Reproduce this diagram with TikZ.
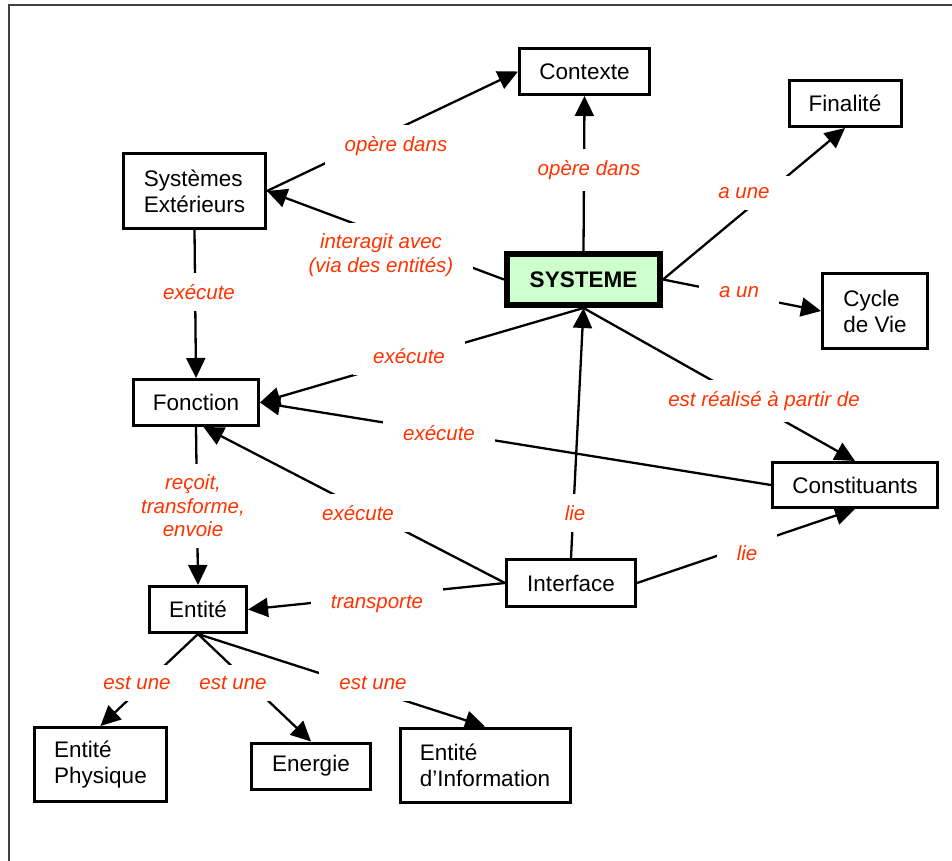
\documentclass[tikz,border=0pt]{standalone}
\usepackage{fontspec}
\setmainfont{Liberation Sans}
\usetikzlibrary{arrows.meta}
\definecolor{linkred}{RGB}{255,51,0}
\definecolor{sysgreen}{RGB}{204,255,204}

\begin{document}
\begin{tikzpicture}[x=1pt,y=-1pt,
  concept/.style={draw, line width=3pt, inner sep=0pt, align=left,
    font=\fontsize{22.5}{26}\selectfont},
  link/.style={line width=2.3pt, -{Triangle[length=20pt,width=19pt]}},
  linklabel/.style={fill=white, text=linkred, inner xsep=20pt, inner ysep=11pt,
    align=center, font=\fontsize{20.5}{23.5}\selectfont\itshape},
]
\useasboundingbox (0,0) rectangle (952,861);

% frame
\draw[line width=1.5pt, black!75] (9,861) -- (9,5) -- (952,5);

% concepts
\node[concept, minimum width=130, minimum height=46] (contexte) at (584.5,71.5) {Contexte};
\node[concept, minimum width=142, minimum height=74] (sysext) at (194.5,191) {Systèmes\\Extérieurs};
\node[concept, minimum width=112, minimum height=46] (finalite) at (845,103.5) {Finalité};
\node[concept, line width=6pt, fill=sysgreen, minimum width=153, minimum height=51,
  font=\fontsize{22.5}{26}\selectfont\bfseries] (systeme) at (583.5,279.5) {SYSTEME};
\node[concept, minimum width=105, minimum height=75] (cycle) at (875,311) {Cycle\\de Vie};
\node[concept, minimum width=165, minimum height=45] (constituants) at (855,485) {Constituants};
\node[concept, minimum width=125, minimum height=46] (fonction) at (196,402.5) {Fonction};
\node[concept, minimum width=97, minimum height=46] (entite) at (198,609.5) {Entité};
\node[concept, minimum width=129, minimum height=47] (interface) at (571,583) {Interface};
\node[concept, minimum width=132, minimum height=74] (entphys) at (100.5,764.5) {Entité\\Physique};
\node[concept, minimum width=119, minimum height=46] (energie) at (311,766) {Energie};
\node[concept, minimum width=170, minimum height=74] (entinfo) at (485,765) {Entité\\d’Information};

% links
\draw[link] (sysext.east) -- (contexte.west);
\draw[link] (systeme.north) -- (contexte.south);
\draw[link] (systeme.west) -- (sysext.east);
\draw[link] (systeme.east) -- (finalite.south);
\draw[link] (systeme.east) -- (cycle.west);
\draw[link] (systeme.south) -- (fonction.east);
\draw[link] (systeme.south) -- (constituants.north);
\draw[link] (constituants.west) -- (fonction.east);
\draw[link] (interface.west) -- (fonction.-73);
\draw[link] (interface.west) -- (entite.east);
\draw[link] (interface.north) -- (systeme.south);
\draw[link] (interface.east) -- (constituants.south);
\draw[link] (fonction.south) -- (entite.north);
\draw[link] (sysext.south) -- (fonction.north);
\draw[link] (entite.south) -- (entphys.north);
\draw[link] (entite.south) -- (energie.north);
\draw[link] (entite.south) -- (entinfo.north);

% link labels
\node[linklabel] (l1) at (396,146) {opère dans};
\node[linklabel] (l2) at (589,170) {opère dans};
\node[linklabel] (l3) at (381,255) {interagit avec\\(via des entités)};
\node[linklabel] (l4) at (744,193) {a une};
\node[linklabel] (l5) at (739,292) {a un};
\node[linklabel] (l6) at (199,292) {exécute};
\node[linklabel] (l7) at (409,356) {exécute};
\node[linklabel] (l8) at (764,401) {est réalisé à partir de};
\node[linklabel] (l9) at (439,433) {exécute};
\node[linklabel] (l10) at (193,506) {reçoit,\\transforme,\\envoie};
\node[linklabel] (l11) at (358,513) {exécute};
\node[linklabel] (l12) at (575,513) {lie};
\node[linklabel] (l13) at (747,553) {lie};
\node[linklabel] (l14) at (377,604) {transporte};
\node[linklabel] (l15) at (137,683) {est une};
\node[linklabel] (l16) at (233,683) {est une};
\node[linklabel] (l17) at (373,683) {est une};
\end{tikzpicture}
\end{document}
